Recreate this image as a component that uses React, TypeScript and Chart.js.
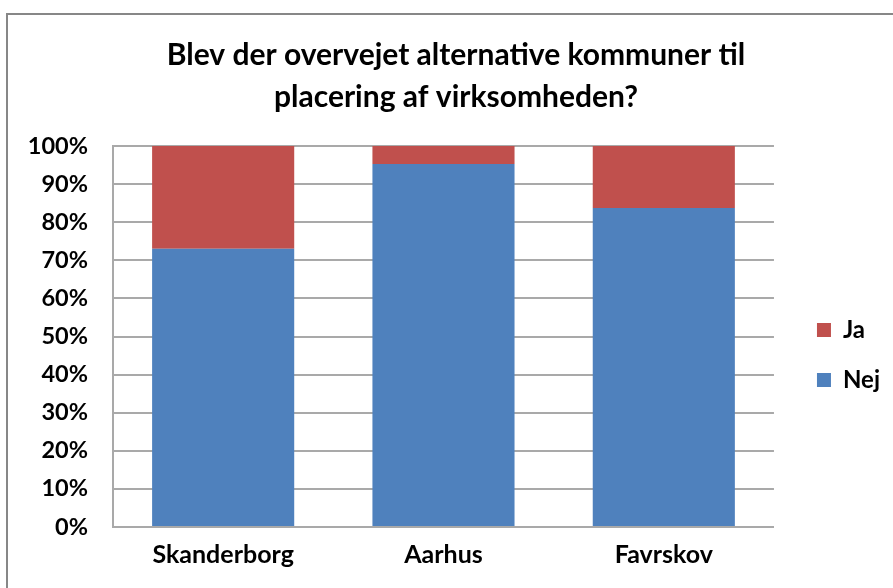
import React, { useEffect, useRef } from "react";
import { Chart, registerables } from "chart.js";

Chart.register(...registerables);

const categories = ["Skanderborg", "Aarhus", "Favrskov"];
const nejValues = [73, 95.3, 83.7];
const jaValues = [27, 4.7, 16.3];
const yTicks = [0, 10, 20, 30, 40, 50, 60, 70, 80, 90, 100];
const titleLines = ["Blev der overvejet alternative kommuner til", "placering af virksomheden?"];

const FONT = "Lato, 'Open Sans', sans-serif";
const GRID = "#a9a9a9";

export default function App() {
  const ref = useRef<HTMLCanvasElement | null>(null);

  useEffect(() => {
    if (!ref.current) return;
    const chart = new Chart(ref.current, {
      type: "bar",
      data: {
        labels: categories,
        datasets: [
          { label: "Nej", data: nejValues, backgroundColor: "#4F81BD", barPercentage: 0.645, categoryPercentage: 1 },
          { label: "Ja", data: jaValues, backgroundColor: "#C0504D", barPercentage: 0.645, categoryPercentage: 1 },
        ],
      },
      options: {
        responsive: false,
        animation: false,
        layout: { padding: { left: 22, right: 22, top: 14, bottom: 0 } },
        plugins: {
          title: {
            display: true,
            text: titleLines,
            color: "#000",
            font: { family: FONT, size: 30, weight: "bold", lineHeight: 1.4 },
            padding: { top: 20, bottom: 28 },
          },
          legend: {
            position: "right",
            reverse: true,
            title: {
              display: true,
              text: " ",
              color: "rgba(0,0,0,0)",
              font: { size: 10, lineHeight: 1 },
              padding: { top: 0, bottom: 98 },
            },
            labels: {
              boxWidth: 14,
              boxHeight: 14,
              padding: 26,
              color: "#000",
              font: { family: FONT, size: 24, weight: "bold" },
            },
          },
          tooltip: { enabled: false },
        },
        scales: {
          x: {
            stacked: true,
            grid: { display: false, drawTicks: false },
            border: { display: true, color: GRID, width: 2 },
            ticks: { color: "#000", padding: 13, font: { family: FONT, size: 25, weight: "bold" } },
            afterFit: (s: any) => { s.height = 61; },
          },
          y: {
            stacked: true,
            min: 0,
            max: 100,
            afterBuildTicks: (s: any) => { s.ticks = yTicks.map((v) => ({ value: v })); },
            grid: { color: GRID, lineWidth: 2, drawTicks: false },
            border: { display: true, color: GRID, width: 2 },
            ticks: {
              color: "#000",
              padding: 25,
              font: { family: FONT, size: 23.5, weight: "bold" },
              callback: (v: any) => `${v}%`,
            },
            afterFit: (s: any) => { s.width = 91; },
          },
          gap: {
            position: "right",
            display: true,
            min: 0,
            max: 1,
            grid: { display: false, drawTicks: false },
            border: { display: false },
            ticks: { display: false },
            afterFit: (s: any) => { s.width = 17; },
          },
        },
      },
    });
    return () => chart.destroy();
  }, []);

  return (
    <div style={{ position: "fixed", left: 0, top: 0, width: 893, height: 588, overflow: "hidden", background: "#fff" }}>
      <canvas ref={ref} width={912} height={588} style={{ position: "absolute", left: 0, top: 0, width: 912, height: 588 }} />
      <div style={{ position: "absolute", left: 6, top: 13, width: 1000, height: 1000, borderLeft: "2px solid #878787", borderTop: "2px solid #878787", pointerEvents: "none" }} />
    </div>
  );
}
